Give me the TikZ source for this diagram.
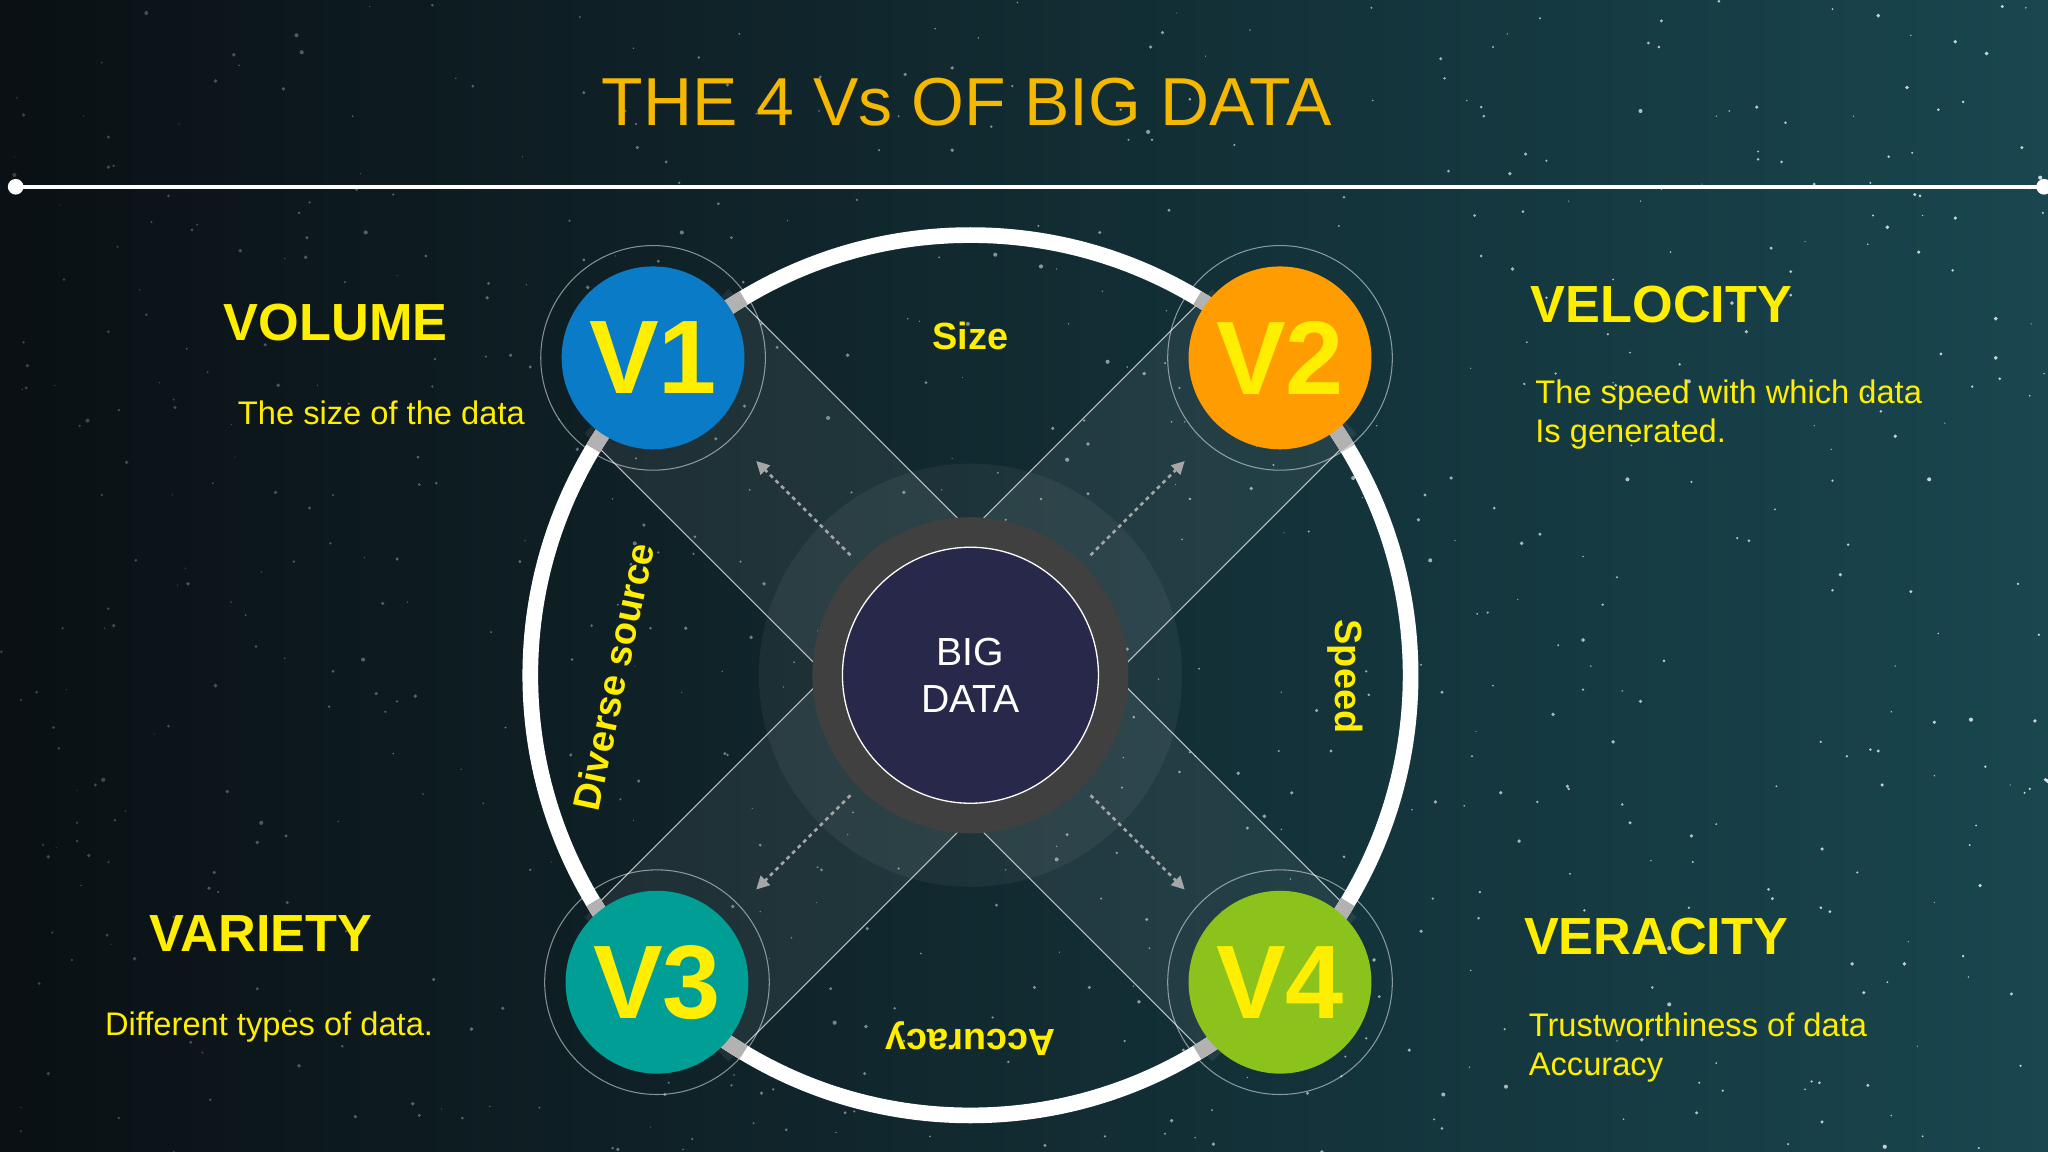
\documentclass[tikz,border=0pt]{standalone}
\usepackage{fontspec}
\setmainfont{Liberation Sans}
\usetikzlibrary{arrows.meta}
\definecolor{ylw}{HTML}{FFEE00}
\definecolor{ttl}{HTML}{F5B800}
\definecolor{vc1}{HTML}{0A7BC6}
\definecolor{vc2}{HTML}{FF9D00}
\definecolor{vc3}{HTML}{009E94}
\definecolor{vc4}{HTML}{8CC21C}
\definecolor{bdc}{HTML}{28284A}
\definecolor{bgr}{HTML}{19464F}
\definecolor{bgl}{HTML}{0A1014}
\tikzset{
 vcirc/.style={circle,minimum size=140pt,inner sep=0pt,text=ylw,font=\fontsize{80}{80}\selectfont\bfseries},
 head/.style={text=ylw,font=\fontsize{40}{40}\selectfont\bfseries},
 desc/.style={text=ylw,font=\fontsize{25}{30}\selectfont,align=left},
 rlab/.style={text=ylw,font=\fontsize{29}{29}\selectfont\bfseries,inner sep=1pt},
 darr/.style={gray!70,line width=2pt,dashed,-{Triangle[length=10pt,width=10pt]}},
}
\begin{document}
\begin{tikzpicture}[x=1pt,y=1pt]
\useasboundingbox (0,0) rectangle (1568,882);
\shade[left color=bgl,right color=bgr] (0,0) rectangle (1568,882);
\pgfmathsetseed{7}
\foreach \i in {1,...,700}{
 \pgfmathsetmacro\sx{random(0,1568)}
 \pgfmathsetmacro\sy{random(0,882)}
 \pgfmathsetmacro\sr{0.4+rnd*1.2}
 \pgfmathsetmacro\so{0.2+0.6*\sx/1568}
 \fill[white,opacity=\so] (\sx,\sy) circle (\sr);
}
\node[text=ttl,font=\fontsize{52}{52}\selectfont] (title) at (740,804) {THE 4 Vs OF BIG DATA};
\coordinate (l1) at (12,739); \coordinate (l2) at (1565,739);
\draw[white,line width=3pt] (l1) -- (l2);
\fill[white] (l1) circle (6); \fill[white] (l2) circle (6);
\coordinate (c) at (743,365);
% bands
\foreach \a in {-45,45}{
 \fill[white,opacity=.07,rotate around={\a:(c)}] (403,287) rectangle (1083,443);
 \draw[white,opacity=.7,line width=.8pt,rotate around={\a:(c)}] (415,287) -- (1071,287) (415,443) -- (1071,443);
}
% ring
\draw[white,line width=12pt] (c) circle (337);
\foreach \a in {45,135,225,315}{
 \draw[gray!60,line width=12pt] ([shift={(\a-14:337)}]c) arc (\a-14:\a-9:337);
 \draw[gray!60,line width=12pt] ([shift={(\a+9:337)}]c) arc (\a+9:\a+14:337);
}
% center
\fill[white,opacity=.05] (c) circle (162);
\fill[black!75!white] (c) circle (121);
\node[circle,minimum size=196pt,fill=bdc,draw=white,line width=1pt,text=white,align=center,font=\fontsize{30}{36}\selectfont] (bd) at (c) {BIG\\DATA};
% arrows
\foreach \a in {45,135,225,315}{
 \draw[darr] ([shift={(\a:130)}]c) -- ([shift={(\a:232)}]c);
}
% V circles
\foreach \n/\x/\y in {1/500/608,2/980/608,3/503/130,4/980/130}{
 \draw[white,opacity=.5,line width=.8pt] (\x,\y) circle (86);
 \node[vcirc,fill=vc\n] (v\n) at (\x,\y) {V\n};
}
\node[rlab] (sz) at (743,625) {Size};
\node[rlab,rotate=78] (ds) at (470,364) {Diverse source};
\node[rlab,rotate=-90] (sp) at (1030,364) {Speed};
\node[rlab,rotate=180] (ac) at (743,87) {Accuracy};
% side texts
\node[head] (h1) at (257,635) {VOLUME};
\node[desc] (d1) at (292,566) {The size of the data};
\node[head] (h2) at (1272,649) {VELOCITY};
\node[desc,anchor=north west] (d2) at (1172,595) {The speed with which data\\Is generated.};
\node[head] (h3) at (200,167) {VARIETY};
\node[desc] (d3) at (206,96) {Different types of data.};
\node[head] (h4) at (1268,165) {VERACITY};
\node[desc,anchor=north west] (d4) at (1167,110) {Trustworthiness of data\\Accuracy};
\end{tikzpicture}
\end{document}
